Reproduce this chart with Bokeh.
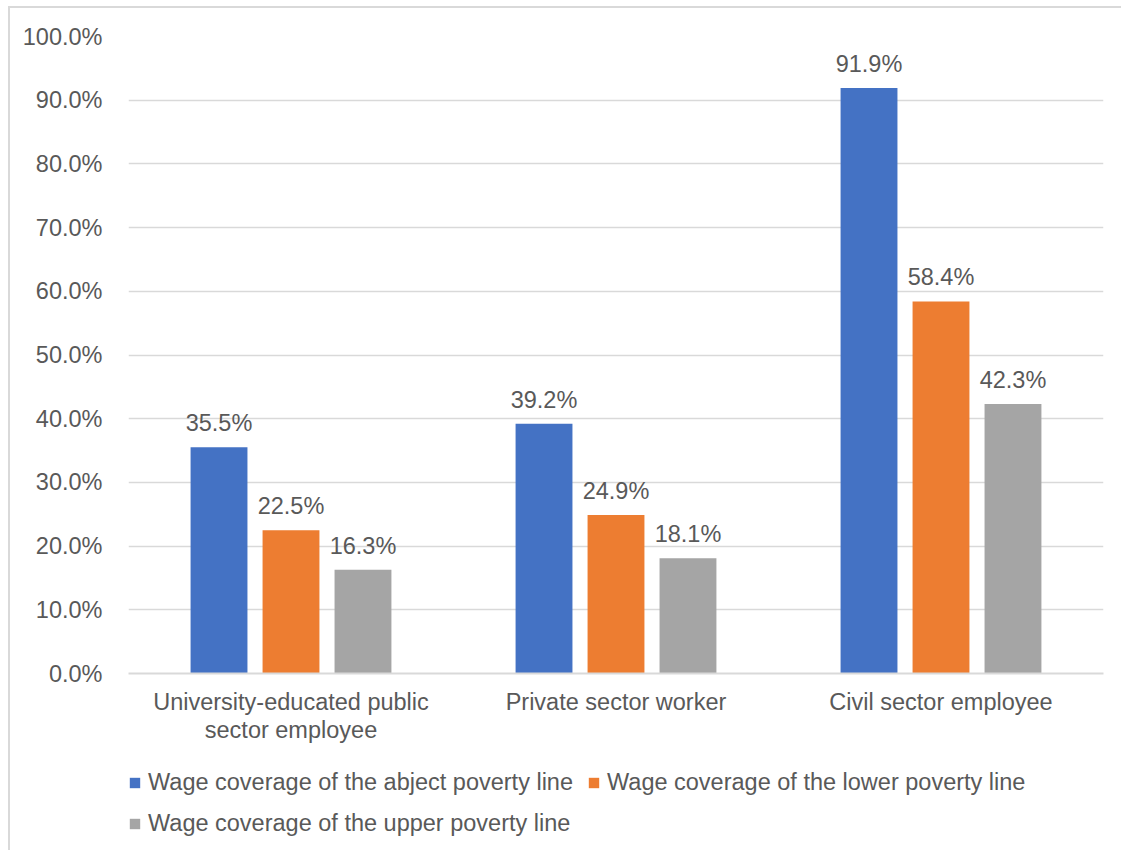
from bokeh.plotting import figure
from bokeh.layouts import column
from bokeh.models import ColumnDataSource, Legend, LegendItem, FactorRange, CustomJSTickFormatter
from bokeh.transform import dodge
from bokeh.embed import file_html
from bokeh.resources import INLINE
from bokeh.core.properties import value

categories = ["University-educated public\nsector employee", "Private sector worker", "Civil sector employee"]
abject = [35.5, 39.2, 91.9]
lower = [22.5, 24.9, 58.4]
upper = [16.3, 18.1, 42.3]
series_names = ["Wage coverage of the abject poverty line",
                "Wage coverage of the lower poverty line",
                "Wage coverage of the upper poverty line"]
colors = ["#4472C4", "#ED7D31", "#A5A5A5"]
y_ticks = [0, 10, 20, 30, 40, 50, 60, 70, 80, 90, 100]

FONT = "Liberation Sans"
FS = "23.5px"
TXT = "#595959"
GRID = "#D9D9D9"

src = ColumnDataSource(dict(
    cat=categories, abject=abject, lower=lower, upper=upper,
    abject_lbl=[f"{v:.1f}%" for v in abject],
    lower_lbl=[f"{v:.1f}%" for v in lower],
    upper_lbl=[f"{v:.1f}%" for v in upper],
))

p = figure(x_range=FactorRange(*categories, range_padding=0), y_range=(0, 100),
           width=1113, height=740, output_backend="svg", toolbar_location=None,
           min_border_left=118, min_border_right=20, min_border_top=28, min_border_bottom=75)
p.margin = (6, 0, 0, 8)
p.styles = {"border-left": "2px solid " + GRID, "border-top": "2px solid " + GRID}
p.outline_line_color = None
p.background_fill_color = "white"
p.border_fill_color = "white"

offsets = [-0.2215, 0.0, 0.2215]
fields = ["abject", "lower", "upper"]
for f, off, c in zip(fields, offsets, colors):
    p.vbar(x=dodge("cat", off, range=p.x_range), top=f, width=0.175, source=src,
           fill_color=c, line_color=None)
    p.text(x=dodge("cat", off, range=p.x_range), y=f, text=f + "_lbl", source=src,
           text_align="center", text_baseline="bottom", y_offset=-11,
           text_font=value(FONT), text_font_size=FS, text_color=TXT)

p.yaxis.ticker = y_ticks
p.yaxis.formatter = CustomJSTickFormatter(code="return tick.toFixed(1) + '%';")
p.yaxis.axis_line_color = None
p.yaxis.major_tick_line_color = None
p.yaxis.minor_tick_line_color = None
p.yaxis.major_label_standoff = 20
p.yaxis.major_label_text_font = FONT
p.yaxis.major_label_text_font_size = FS
p.yaxis.major_label_text_color = TXT

p.ygrid.grid_line_color = GRID
p.ygrid.grid_line_width = 1.5
p.xgrid.grid_line_color = None

p.xaxis.axis_line_color = GRID
p.xaxis.axis_line_width = 2
p.xaxis.major_tick_line_color = None
p.xaxis.minor_tick_line_color = None
p.xaxis.major_label_standoff = 9
p.xaxis.major_label_text_font = FONT
p.xaxis.major_label_text_font_size = FS
p.xaxis.major_label_text_color = TXT
p.xaxis.major_label_text_align = "center"
p.xaxis.major_label_text_line_height = 1.09

# legend strip below the chart (its frame is aligned with the chart's frame)
pl = figure(width=1113, height=104, output_backend="svg", toolbar_location=None,
            x_range=FactorRange(*categories, range_padding=0), y_range=(0, 100),
            min_border_left=0, min_border_right=0, min_border_top=0, min_border_bottom=0)
pl.margin = (0, 0, 0, 8)
pl.styles = {"border-left": "2px solid " + GRID}
pl.axis.visible = False
pl.grid.visible = False
pl.outline_line_color = None
pl.border_fill_color = "white"
# hidden copies of the series, used only as legend keys
legend_renderers = []
for f, off, c in zip(fields, offsets, colors):
    r = pl.vbar(x=dodge("cat", off, range=pl.x_range), top=f, width=0.175,
                source=src, fill_color=c, line_color=None)
    r.visible = False
    legend_renderers.append(r)

items = [LegendItem(label=n, renderers=[r]) for n, r in zip(series_names, legend_renderers)]
legend = Legend(items=items, orientation="horizontal", ncols=2, location=(0, 13),
                glyph_width=13, glyph_height=13, label_standoff=7, spacing=14,
                label_text_font=FONT, label_text_font_size=FS, label_text_color=TXT,
                border_line_color=None, background_fill_alpha=0, padding=0, margin=0,
                click_policy="none")
pl.add_layout(legend, "center")

layout = column(p, pl, spacing=0)
open("out.html", "w").write(file_html(layout, INLINE))
